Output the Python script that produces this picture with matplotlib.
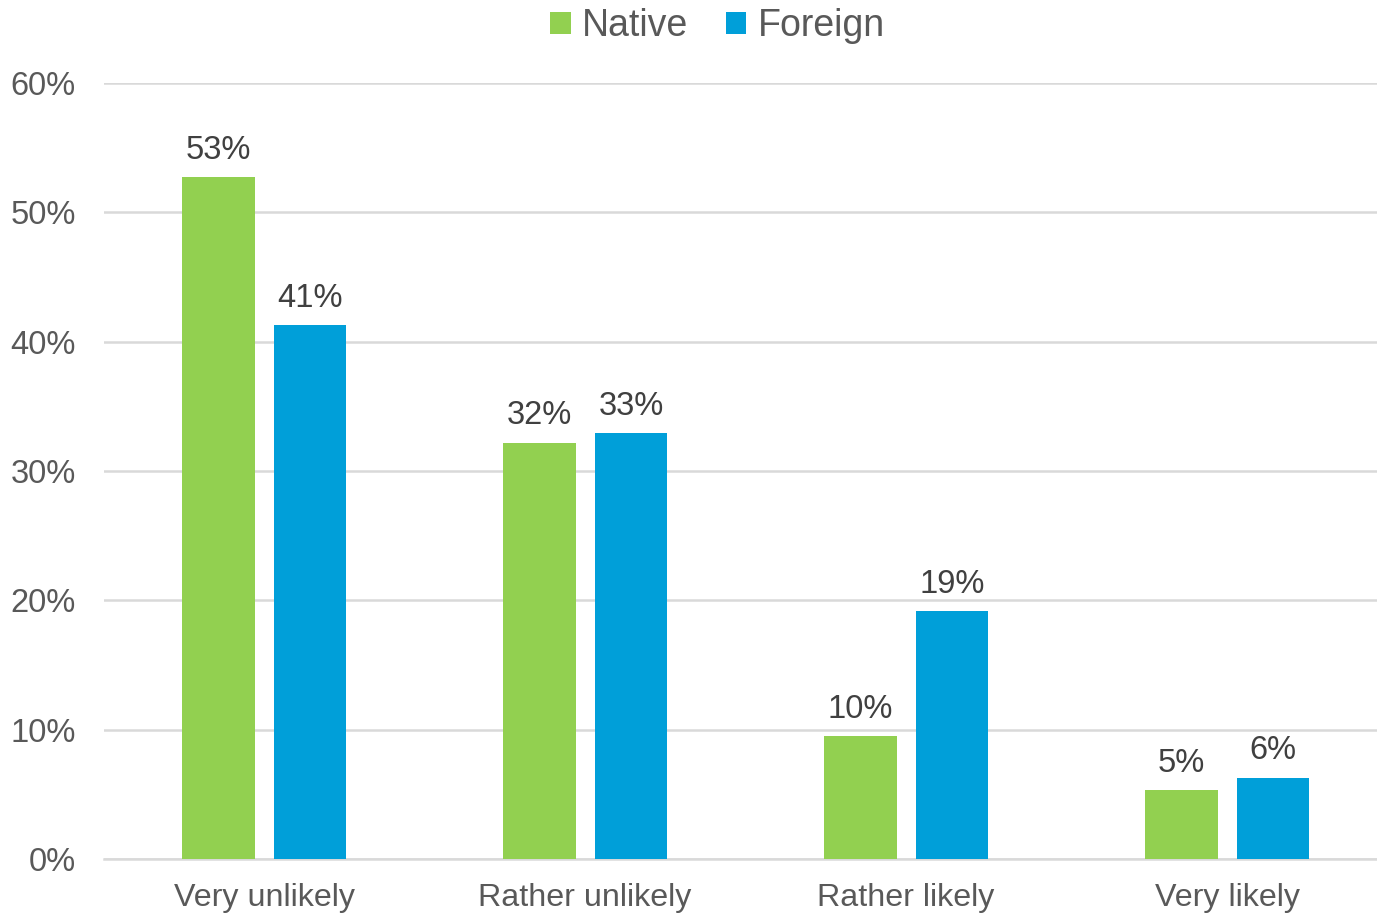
import numpy as np
import matplotlib.pyplot as plt

plt.rcParams['font.family'] = ['Liberation Sans', 'DejaVu Sans']

# Data
categories = ['Very unlikely', 'Rather unlikely', 'Rather likely', 'Very likely']
native = [52.7, 32.2, 9.5, 5.3]
foreign = [41.3, 32.9, 19.2, 6.3]
native_labels = ['53%', '32%', '10%', '5%']
foreign_labels = ['41%', '33%', '19%', '6%']
yticks = [0, 10, 20, 30, 40, 50, 60]

green = '#92D050'
blue = '#009FD9'

fig = plt.figure(figsize=(13.77, 9.15), dpi=100)
ax = fig.add_axes([0.0752, 0.0612, 0.9325, 0.8481])

x = np.arange(len(categories))
w = 0.227
gap = 0.059
b1 = ax.bar(x - (w + gap) / 2, native, w, color=green, label='Native', zorder=3)
b2 = ax.bar(x + (w + gap) / 2, foreign, w, color=blue, label='Foreign', zorder=3)

for bars, labels in [(b1, native_labels), (b2, foreign_labels)]:
    for bar, lab in zip(bars, labels):
        ax.annotate(lab, (bar.get_x() + bar.get_width() / 2, bar.get_height()),
                    xytext=(0, 8), textcoords='offset points',
                    ha='center', va='bottom', fontsize=23.5, color='#404040')

ax.set_xlim(-0.5, 3.5)
ax.set_ylim(0, 60)
ax.set_yticks(yticks)
ax.set_yticklabels([f'{t}%' for t in yticks], fontsize=23.5, color='#595959')
ax.set_xticks(x)
ax.set_xticklabels(categories, fontsize=23.2, color='#595959')
ax.tick_params(axis='both', length=0)
ax.tick_params(axis='y', pad=20)
ax.tick_params(axis='x', pad=17)

ax.grid(axis='y', color='#D9D9D9', linewidth=1.8, zorder=0)
for s in ['top', 'right', 'left']:
    ax.spines[s].set_visible(False)
ax.spines['bottom'].set_color('#D9D9D9')
ax.spines['bottom'].set_linewidth(1.8)

fig.legend(loc='upper center', bbox_to_anchor=(0.521, 1.028), ncol=2, frameon=False,
           fontsize=27, handlelength=0.55, handleheight=0.55, handletextpad=0.3,
           columnspacing=1.0, labelcolor='#595959')

fig.savefig('out.png', dpi=100)
